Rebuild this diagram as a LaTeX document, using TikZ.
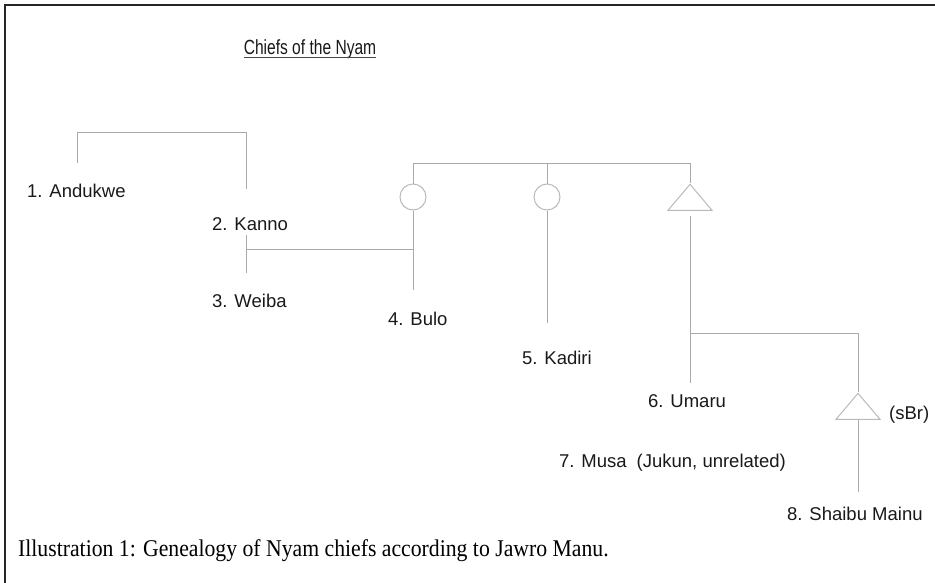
\documentclass[tikz,border=0pt]{standalone}
\usepackage{fontspec}
\setmainfont{Liberation Serif}
\setsansfont{Liberation Sans}
\usetikzlibrary{shapes.geometric}
\definecolor{kinline}{RGB}{170,170,170}
\definecolor{kinsym}{RGB}{185,185,185}
\definecolor{kintext}{RGB}{25,25,25}
\tikzstyle{kin} = [draw=kinline, line width=1pt]
\tikzstyle{female} = [circle, draw=kinsym, line width=1pt, minimum size=26pt, inner sep=0pt]
\tikzstyle{male} = [isosceles triangle, isosceles triangle stretches, shape border rotate=90, draw=kinsym, line width=1pt, minimum width=44pt, minimum height=26pt, inner sep=0pt]
\tikzstyle{chief} = [font=\sffamily\fontsize{18.5}{22}\selectfont, text=kintext, anchor=base west, inner sep=0pt]

\begin{document}
\begin{tikzpicture}[x=1pt, y=-1pt]
    \useasboundingbox (0,0) rectangle (935,582);
    \clip (0,0) rectangle (935,582);

    % Frame
    \draw[line width=2pt, color=black!85] (5,600) -- (5,5) -- (950,5);

    % Title
    \node[font=\sffamily\fontsize{20.5}{24}\selectfont, text=kintext, anchor=base, inner sep=0pt, xscale=0.76] (title) at (310,54) {Chiefs of the Nyam};
    \draw[line width=1.6pt, color=kintext!80] ([yshift=-3.5pt]title.base west) -- ([yshift=-3.5pt]title.base east);

    % Names
    \node[chief] (andukwe) at (27,197) {1. Andukwe};
    \node[chief] (kanno) at (212,230) {2. Kanno};
    \node[chief] (weiba) at (212,307) {3. Weiba};
    \node[chief] (bulo) at (388,325) {4. Bulo};
    \node[chief] (kadiri) at (522,364) {5. Kadiri};
    \node[chief] (umaru) at (648,407) {6. Umaru};
    \node[chief] (sbr) at (889,419) {(sBr)};
    \node[chief] (musa) at (559,467) {7. Musa\hspace{10pt}(Jukun, unrelated)};
    \node[chief] (shaibu) at (787,520) {8. Shaibu Mainu};

    % Symbols
    \node[female] (bulof) at (413,197) {};
    \node[female] (kadf) at (547,197) {};
    \node[male, anchor=north] (umarum) at (690,183) {};
    \node[male, anchor=north] (sbrm) at (858,392) {};

    % Andukwe and Kanno
    \coordinate (a1) at (77,163);
    \coordinate (k1) at (246,189);
    \coordinate (sib1) at (160,132);
    \draw[kin] (a1) -- (a1 |- sib1) -- (k1 |- sib1) -- (k1);

    % Kanno, Weiba and Bulo
    \coordinate (k2) at (246,235);
    \coordinate (w1) at (246,273);
    \coordinate (m1) at (246,249);
    \draw[kin] (k2) -- (w1);
    \draw[kin] (m1) -- (m1 -| bulof);

    % Siblings
    \coordinate (sib2) at (550,163);
    \draw[kin] (bulof.north) -- (bulof.north |- sib2) -- (umarum.north |- sib2) -- (umarum.north);
    \draw[kin] (kadf.north) -- (kadf.north |- sib2);
    \coordinate (b1) at (413,290);
    \draw[kin] (bulof.south) -- (b1);
    \coordinate (kd1) at (547,323);
    \draw[kin] (kadf.south) -- (kd1);

    % Umaru and Shaibu Mainu
    \coordinate (u0) at (690,216);
    \coordinate (u1) at (690,383);
    \draw[kin] (u0) -- (u1);
    \coordinate (m2) at (690,333);
    \draw[kin] (m2) -| (sbrm.north);
    \coordinate (s1) at (858,492);
    \draw[kin] (sbrm.south) -- (s1);

    % Caption
    \node[font=\fontsize{24}{28}\selectfont, text=black, anchor=base west, inner sep=0pt, xscale=0.905] (caption) at (18,556) {Illustration 1: Genealogy of Nyam chiefs according to Jawro Manu.};
\end{tikzpicture}
\end{document}
